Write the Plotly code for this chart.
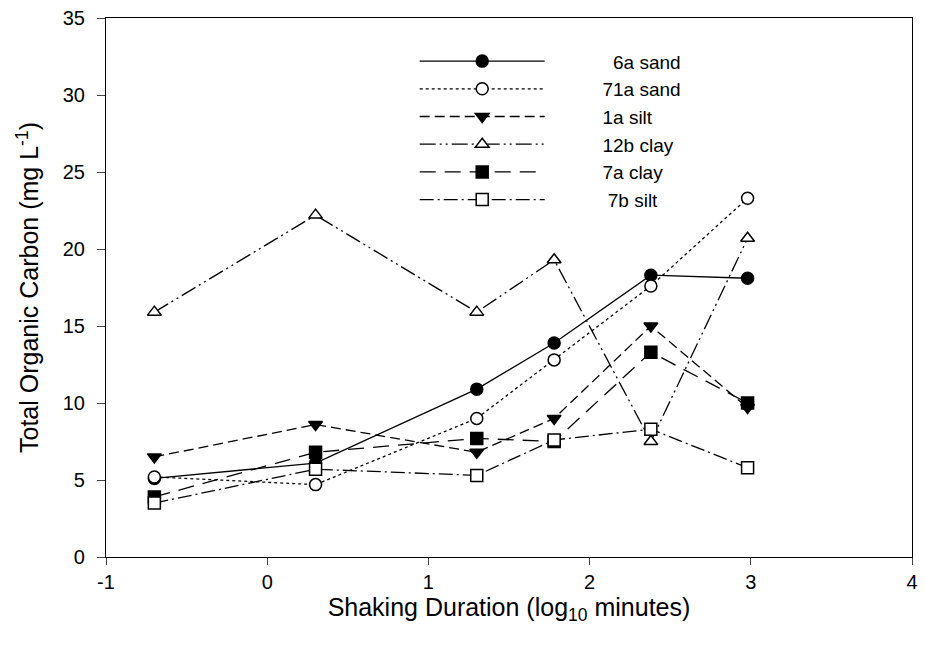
import plotly.graph_objects as go

x_log = [-0.70, 0.30, 1.30, 1.78, 2.38, 2.98]

series_names = ["6a sand", "71a sand", "1a silt", "12b clay", "7a clay", "7b silt"]
sand_6a = [5.1, 6.1, 10.9, 13.9, 18.3, 18.1]
sand_71a = [5.2, 4.7, 9.0, 12.8, 17.6, 23.3]
silt_1a = [6.5, 8.6, 6.8, 9.0, 15.0, 9.7]
clay_12b = [15.9, 22.2, 15.9, 19.3, 7.5, 20.7]
clay_7a = [3.9, 6.8, 7.7, 7.5, 13.3, 10.0]
silt_7b = [3.5, 5.7, 5.3, 7.6, 8.3, 5.8]

x_tickvals = [-1, 0, 1, 2, 3, 4]
x_ticktext = ["-1", "0", "1", "2", "3", "4"]
y_tickvals = [0, 5, 10, 15, 20, 25, 30, 35]

values = [sand_6a, sand_71a, silt_1a, clay_12b, clay_7a, silt_7b]

styles = [
    dict(dash="solid", symbol="circle", fill="black", pad=12),
    dict(dash="dot", symbol="circle", fill="white", pad=10),
    dict(dash="10px,5px", symbol="triangle-down", fill="black", pad=10),
    dict(dash="16px,4px,2px,4px,2px,4px", symbol="triangle-up", fill="white", pad=10),
    dict(dash="16px,9px", symbol="square", fill="black", pad=10),
    dict(dash="14px,4px,2px,4px", symbol="square", fill="white", pad=11),
]

fig = go.Figure()
for name, vals, st in zip(series_names, values, styles):
    fig.add_trace(go.Scatter(
        x=x_log, y=vals, name="\u00a0" * st["pad"] + name, mode="lines+markers",
        line=dict(color="black", width=1.3, dash=st["dash"]),
        marker=dict(symbol=st["symbol"], size=12, color=st["fill"],
                    line=dict(color="black", width=1.5)),
    ))

fig.update_layout(
    width=925, height=651,
    margin=dict(l=106, r=7, t=16, b=94),
    paper_bgcolor="white", plot_bgcolor="white",
    font=dict(family="Liberation Sans, Arial, sans-serif", color="black", size=20),
    legend=dict(x=0.383, y=0.955, xanchor="left", yanchor="top",
                bgcolor="rgba(0,0,0,0)", font=dict(size=19),
                itemwidth=125, tracegroupgap=0),
    xaxis=dict(range=[-1, 4], tickvals=x_tickvals, ticktext=x_ticktext,
               ticks="outside", ticklen=7, tickwidth=1, showline=True,
               linecolor="black", linewidth=1.2, mirror=True, showgrid=False,
               zeroline=False, tickfont=dict(size=20),
               title=dict(text="Shaking Duration (log<sub>10</sub> minutes)",
                          font=dict(size=25), standoff=1)),
    yaxis=dict(range=[0, 35], tickvals=y_tickvals,
               ticks="outside", ticklen=8, tickwidth=1, showline=True,
               linecolor="black", linewidth=1.2, mirror=True, showgrid=False,
               zeroline=False, tickfont=dict(size=20), ticklabelstandoff=8,
               title=dict(text="Total Organic Carbon (mg L<sup>-1</sup>)",
                          font=dict(size=25), standoff=16)),
)

fig.write_html("out.html")
